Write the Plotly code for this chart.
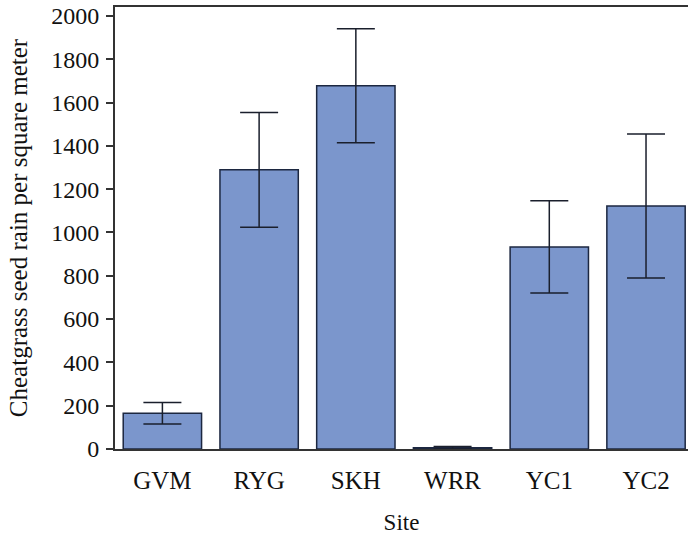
import plotly.graph_objects as go

# Cheatgrass seed rain by site (mean ± error)
sites = ["GVM", "RYG", "SKH", "WRR", "YC1", "YC2"]
seed_rain = [165, 1289, 1677, 6, 933, 1122]
error = [50, 265, 263, 6, 213, 332]
y_ticks = [0, 200, 400, 600, 800, 1000, 1200, 1400, 1600, 1800, 2000]

serif = "Liberation Serif"

fig = go.Figure(
    go.Bar(
        x=list(range(len(sites))),
        y=seed_rain,
        width=0.81,
        marker=dict(color="#7b96cc", line=dict(color="#1c2740", width=1.5)),
        error_y=dict(type="data", array=error, visible=True,
                     color="#1a1f2c", thickness=1.5, width=19),
    )
)

fig.update_layout(
    width=688, height=542,
    margin=dict(l=115, r=0, t=7, b=93),
    plot_bgcolor="white", paper_bgcolor="white",
    font=dict(family=serif, color="#111111", size=24),
    showlegend=False,
    xaxis=dict(
        range=[-0.49, 5.434],
        tickmode="array", tickvals=list(range(len(sites))), ticktext=sites,
        showline=True, linecolor="#333333", linewidth=1.5, mirror=True,
        ticks="", showgrid=False, zeroline=False,
        tickfont=dict(family=serif, size=25), ticklabelstandoff=8,
        title=dict(text="Site", font=dict(family=serif, size=23), standoff=21),
    ),
    yaxis=dict(
        range=[0, 2041],
        tickmode="array", tickvals=y_ticks,
        showline=True, linecolor="#333333", linewidth=2,
        ticks="outside", ticklen=7, tickcolor="#333333", tickwidth=1.5,
        showgrid=False, zeroline=False,
        tickfont=dict(family=serif, size=24), ticklabelstandoff=2,
        title=dict(text="Cheatgrass seed rain per square meter",
                   font=dict(family=serif, size=25), standoff=16),
    ),
)

fig.write_html("out.html")
